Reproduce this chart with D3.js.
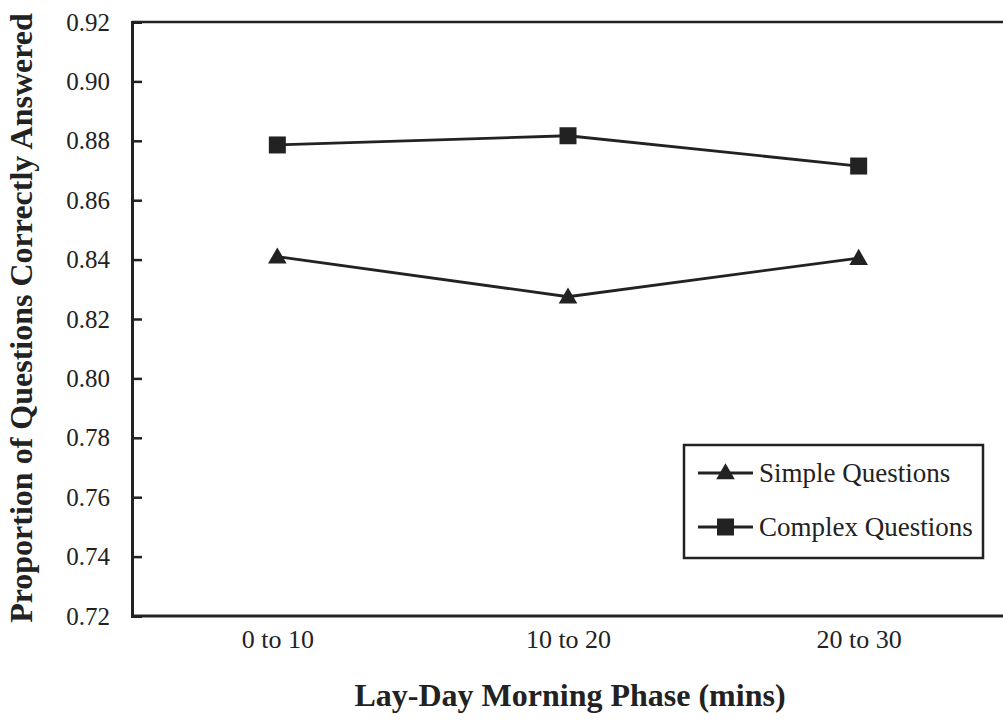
<!DOCTYPE html>
<html><head><meta charset="utf-8">
<script src="https://cdn.jsdelivr.net/npm/d3@7"></script>
<style>body{margin:0;background:#fff;} svg{display:block;} text{font-family:"Liberation Serif","Times New Roman",serif !important;fill:#222;}</style>
</head><body>
<svg id="c" width="1003" height="721"></svg>
<script>
const categories = ["0 to 10", "10 to 20", "20 to 30"];
const simpleValues = [0.841, 0.8275, 0.8405];
const complexValues = [0.8786, 0.8817, 0.8715];
const yTicks = [0.72, 0.74, 0.76, 0.78, 0.80, 0.82, 0.84, 0.86, 0.88, 0.90, 0.92];
const seriesNames = ["Simple Questions", "Complex Questions"];

const svg = d3.select("#c");
const L = 132, R = 1004, T = 22, B = 616;
const x = d3.scalePoint().domain(categories).range([L, R]).padding(0.5);
const y = d3.scaleLinear().domain([0.72, 0.92]).range([B, T]);
const ink = "#222";
const serif = '"Liberation Serif","Times New Roman",serif';

svg.append("line").attr("x1", L).attr("x2", 1003).attr("y1", T).attr("y2", T).attr("stroke", ink).attr("stroke-width", 2.5);

const yAxis = svg.append("g").attr("transform", `translate(${L},0)`)
  .call(d3.axisRight(y).tickValues(yTicks).tickSize(10).tickFormat(d3.format(".2f")))
  .attr("font-family", serif);
yAxis.select(".domain").attr("stroke", ink).attr("stroke-width", 3);
yAxis.selectAll(".tick line").attr("stroke", ink).attr("stroke-width", 2.5);
yAxis.selectAll(".tick text").attr("x", -22).attr("text-anchor", "end").attr("dy", "0.32em")
  .style("font-size", "25px").attr("fill", ink);

const xAxis = svg.append("g").attr("transform", `translate(0,${B})`)
  .call(d3.axisBottom(x).tickSize(0).tickPadding(0))
  .attr("font-family", serif);
xAxis.select(".domain").attr("d", `M${L},0H1003`).attr("stroke", ink).attr("stroke-width", 3);
xAxis.selectAll(".tick text").attr("y", 14).style("font-size", "26px").attr("fill", ink);

svg.append("text").attr("x", 570).attr("y", 706).attr("text-anchor", "middle")
  .style("font-size", "32px").style("font-weight", "bold").text("Lay-Day Morning Phase (mins)");
svg.append("text").attr("transform", "translate(32,318) rotate(-90)").attr("text-anchor", "middle")
  .style("font-size", "32px").style("font-weight", "bold").text("Proportion of Questions Correctly Answered");

const line = d3.line().x((d, i) => x(categories[i])).y(d => y(d));
const sym = [d3.symbolTriangle, d3.symbolSquare];
const symSize = [150, 289];
[simpleValues, complexValues].forEach((vals, k) => {
  svg.append("path").datum(vals).attr("d", line).attr("fill", "none").attr("stroke", ink).attr("stroke-width", 2.8);
  svg.selectAll(null).data(vals).enter().append("path")
    .attr("transform", (d, i) => `translate(${x(categories[i])},${y(d) + (k === 0 ? 1.5 : 0)})`)
    .attr("d", d3.symbol().type(sym[k]).size(symSize[k])).attr("fill", ink);
});

const lg = svg.append("g");
lg.append("rect").attr("x", 684).attr("y", 445).attr("width", 299).attr("height", 113)
  .attr("fill", "#fff").attr("stroke", ink).attr("stroke-width", 2.5);
const ly = [473, 527];
seriesNames.forEach((n, k) => {
  lg.append("line").attr("x1", 698).attr("x2", 753).attr("y1", ly[k]).attr("y2", ly[k]).attr("stroke", ink).attr("stroke-width", 2.8);
  lg.append("path").attr("transform", `translate(725.5,${ly[k] + (k === 0 ? 1 : 0)})`)
    .attr("d", d3.symbol().type(sym[k]).size(symSize[k])).attr("fill", ink);
  lg.append("text").attr("x", 759).attr("y", ly[k]).attr("dy", "0.35em").style("font-size", "27px").text(n);
});
</script>
</body></html>
